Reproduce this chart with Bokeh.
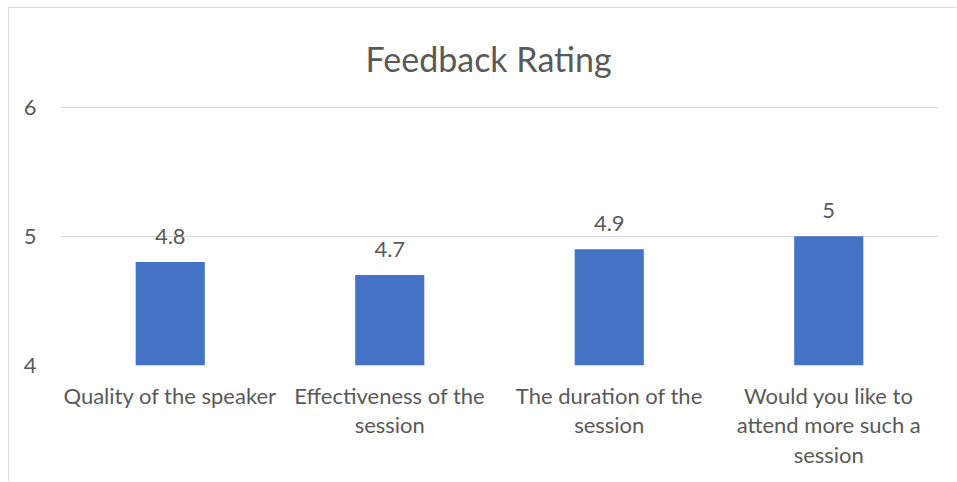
from bokeh.plotting import figure
from bokeh.models import ColumnDataSource, FixedTicker, LabelSet
from bokeh.core.properties import value
from bokeh.embed import file_html
from bokeh.resources import INLINE

title_text = "Feedback Rating"
categories = ["Quality of the speaker", "Effectiveness of the\nsession",
              "The duration of the\nsession", "Would you like to\nattend more such a\nsession"]
ratings = [4.8, 4.7, 4.9, 5.0]
label_text = ["4.8", "4.7", "4.9", "5"]
y_ticks = [4, 5, 6]

src = ColumnDataSource(dict(cat=categories, val=ratings, lab=label_text))

FONT = "Lato"
GREY = "#595959"

p = figure(x_range=categories, y_range=(4, 6.004), width=948, height=474,
           output_backend="svg", toolbar_location=None, title=title_text,
           min_border_left=51, min_border_right=19, min_border_top=98, min_border_bottom=117)
p.styles = {"margin-left": "8px", "margin-top": "7px",
            "border-left": "1px solid #d9d9d9", "border-top": "1px solid #d9d9d9"}

p.vbar(x="cat", top="val", bottom=4, width=0.315, source=src,
       fill_color="#4472C4", line_color=None)

p.add_layout(LabelSet(x="cat", y="val", text="lab", source=src,
                      text_align="center", text_baseline="bottom", y_offset=18,
                      text_font=value(FONT), text_font_size=value("22px"), text_color=GREY))

p.title.text_font = FONT
p.title.text_font_size = "34px"
p.title.text_font_style = "normal"
p.title.text_color = GREY
p.title.align = "left"
p.title.offset = 305
p.title.vertical_align = "bottom"
p.title.standoff = 55

p.outline_line_color = None
p.xgrid.grid_line_color = None
p.ygrid.grid_line_color = "#d9d9d9"
p.ygrid.grid_line_width = 1

p.yaxis.ticker = FixedTicker(ticks=y_ticks)
p.yaxis.axis_line_color = None
p.yaxis.major_tick_line_color = None
p.yaxis.minor_tick_line_color = None
p.yaxis.major_label_text_font = FONT
p.yaxis.major_label_text_font_size = "22px"
p.yaxis.major_label_text_color = GREY
p.yaxis.major_label_standoff = 18

p.xaxis.axis_line_color = None
p.xaxis.major_tick_line_color = None
p.xaxis.major_label_text_font = FONT
p.xaxis.major_label_text_font_size = "22px"
p.xaxis.major_label_text_color = GREY
p.xaxis.major_label_standoff = 10
p.xaxis.major_label_text_line_height = 1.1

open("out.html", "w").write(file_html(p, INLINE))
